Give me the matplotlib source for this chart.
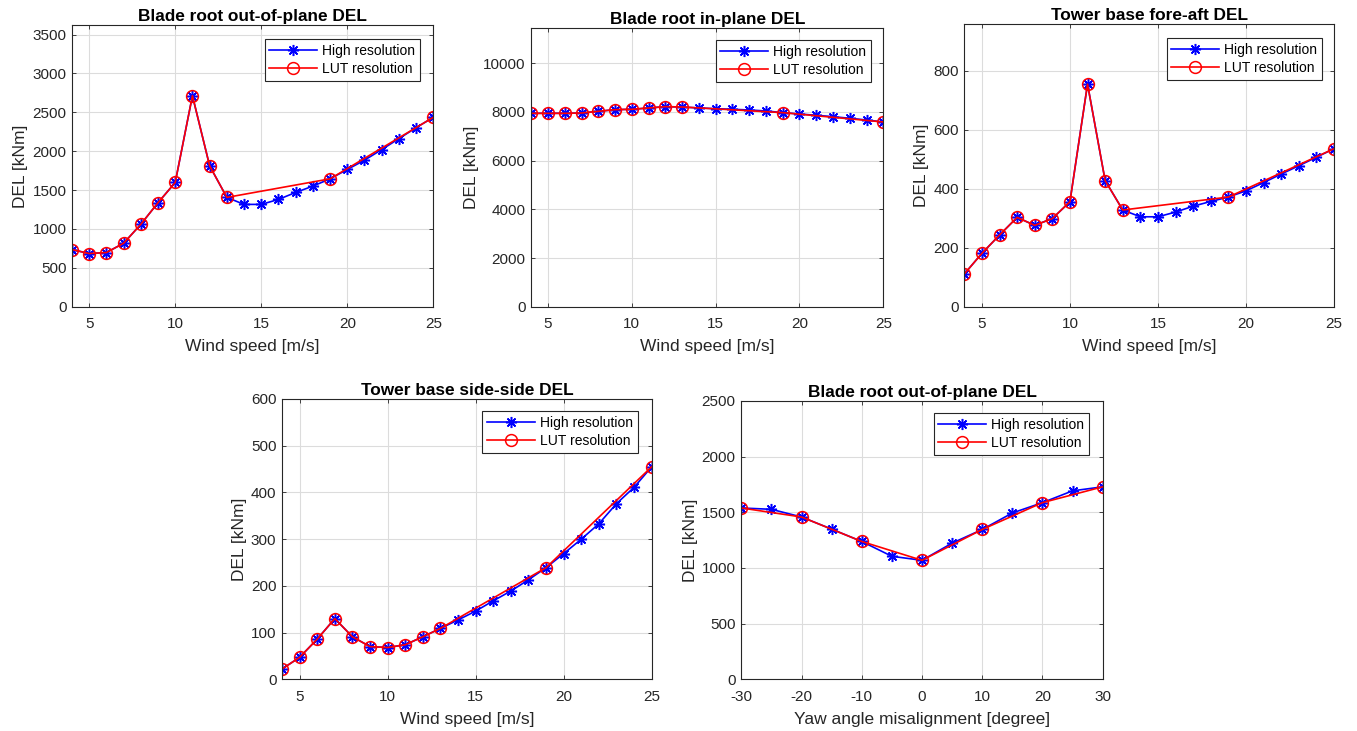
import matplotlib
matplotlib.use("Agg")
import matplotlib.pyplot as plt
import numpy as np

plt.rcParams['font.family'] = ['Liberation Sans', 'DejaVu Sans']
plt.rcParams['axes.unicode_minus'] = False

# ---------------- data ----------------
wind_hi = list(range(4, 26))
wind_lut = [4, 5, 6, 7, 8, 9, 10, 11, 12, 13, 19, 25]

oop_hi = [735, 684, 697, 816, 1060, 1338, 1598, 2714, 1812, 1406, 1316, 1316,
          1380, 1470, 1551, 1645, 1765, 1885, 2021, 2162, 2303, 2436]
oop_lut = [735, 684, 697, 816, 1060, 1338, 1598, 2714, 1812, 1406, 1645, 2436]

ip_hi = [7945, 7945, 7945, 7959, 8027, 8096, 8110, 8164, 8219, 8205, 8164, 8137,
         8110, 8082, 8041, 7973, 7918, 7863, 7808, 7740, 7671, 7589]
ip_lut = [7945, 7945, 7945, 7959, 8027, 8096, 8110, 8164, 8219, 8205, 7973, 7589]

fa_hi = [111, 181, 243, 303, 276, 299, 356, 755, 428, 328, 305, 305,
         321, 341, 357, 372, 393, 421, 450, 478, 507, 536]
fa_lut = [111, 181, 243, 303, 276, 299, 356, 755, 428, 328, 372, 536]

ss_hi = [22, 47, 86, 130, 91, 70, 68, 74, 91, 109, 127, 146,
         168, 189, 213, 239, 269, 300, 333, 376, 411, 455]
ss_lut = [22, 47, 86, 130, 91, 70, 68, 74, 91, 109, 239, 455]

yaw_hi = [-30, -25, -20, -15, -10, -5, 0, 5, 10, 15, 20, 25, 30]
yaw_lut = [-30, -20, -10, 0, 10, 20, 30]
yaw_oop_hi = [1539, 1527, 1458, 1349, 1238, 1105, 1069, 1223, 1346, 1494, 1587, 1693, 1729]
yaw_oop_lut = [1539, 1458, 1238, 1069, 1346, 1587, 1729]

titles = ["Blade root out-of-plane DEL", "Blade root in-plane DEL",
          "Tower base fore-aft DEL", "Tower base side-side DEL",
          "Blade root out-of-plane DEL"]
xlabels = ["Wind speed [m/s]"] * 4 + ["Yaw angle misalignment [degree]"]
ylabel = "DEL [kNm]"
legend_labels = ["High resolution", "LUT resolution"]

W, H = 1357, 731
fig = plt.figure(figsize=(W / 100, H / 100), dpi=100)

# axes boxes in pixels (left, top, right, bottom)
boxes = [(72, 25.3, 433.3, 306.7),
         (531.3, 28, 883.3, 306.7),
         (964.3, 24.3, 1334, 306.7),
         (282, 399, 651.7, 679.3),
         (741.3, 401, 1102.7, 679.3)]
# legend upper-right corners in pixels
leg_corners = [(420, 39), (871, 40), (1322, 37.7), (638, 411), (1089, 413)]

panels = [
    (wind_hi, oop_hi, wind_lut, oop_lut, (4, 25), [5, 10, 15, 20, 25], (0, 3620), np.arange(0, 3501, 500)),
    (wind_hi, ip_hi, wind_lut, ip_lut, (4, 25), [5, 10, 15, 20, 25], (0, 11450), np.arange(0, 10001, 2000)),
    (wind_hi, fa_hi, wind_lut, fa_lut, (4, 25), [5, 10, 15, 20, 25], (0, 958), np.arange(0, 801, 200)),
    (wind_hi, ss_hi, wind_lut, ss_lut, (4, 25), [5, 10, 15, 20, 25], (0, 600), np.arange(0, 601, 100)),
    (yaw_hi, yaw_oop_hi, yaw_lut, yaw_oop_lut, (-30, 30), [-30, -20, -10, 0, 10, 20, 30], (0, 2500), np.arange(0, 2501, 500)),
]

txtc = '#262626'
for i, (xh, yh, xl, yl, xlim, xt, ylim, yt) in enumerate(panels):
    l, t, r, b = boxes[i]
    ax = fig.add_axes([l / W, 1 - b / H, (r - l) / W, (b - t) / H])
    ax.plot(xh, yh, color='blue', lw=1.2, marker=(8, 2, 0), ms=8, mew=1.1,
            label=legend_labels[0])
    ax.plot(xl, yl, color='red', lw=1.2, marker='o', ms=8.5, mfc='none', mew=1.1,
            label=legend_labels[1])
    ax.set_xlim(*xlim)
    ax.set_ylim(*ylim)
    ax.set_xticks(xt)
    ax.set_yticks(yt)
    ax.grid(True, color='#dcdcdc', lw=0.8)
    ax.set_axisbelow(True)
    ax.tick_params(direction='in', length=3, width=0.6, colors=txtc, labelsize=11,
                   top=True, right=True)
    ax.tick_params(axis='x', pad=7.5)
    ax.tick_params(axis='y', pad=4)
    for s in ax.spines.values():
        s.set_color(txtc)
        s.set_linewidth(0.8)
    ax.set_title(titles[i], fontsize=12.4, fontweight='bold', color='black', pad=3)
    ax.set_xlabel(xlabels[i], fontsize=12.5, color=txtc, labelpad=6)
    ax.set_ylabel(ylabel, fontsize=12.5, color=txtc, labelpad=3)
    cx, cy = leg_corners[i]
    ax_x = (cx - l) / (r - l)
    ax_y = (b - cy) / (b - t)
    leg = ax.legend(loc='upper right', bbox_to_anchor=(ax_x, ax_y), borderaxespad=0,
                    fontsize=10, fancybox=False, framealpha=1, edgecolor=txtc,
                    handlelength=3.4, handletextpad=0.4, borderpad=0.35,
                    labelspacing=0.3)
    leg.get_frame().set_linewidth(0.8)

fig.savefig("out.png", dpi=100)
